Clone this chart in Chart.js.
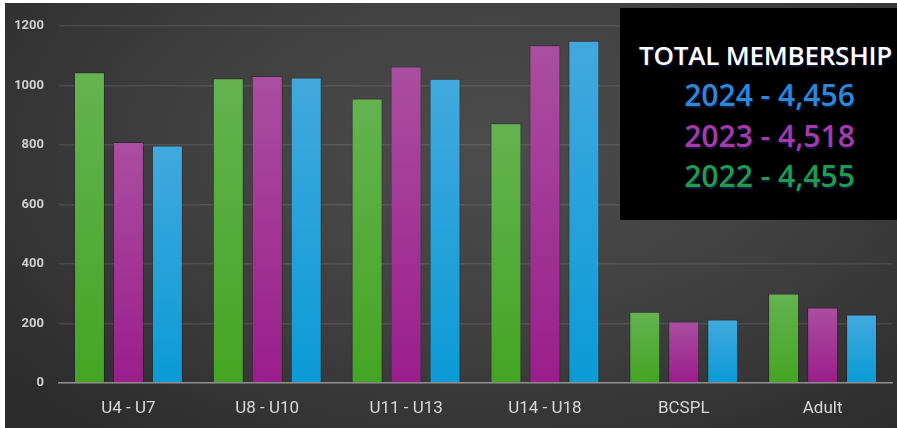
<!DOCTYPE html>
<html>
<head>
<meta charset="utf-8">
<script src="https://cdn.jsdelivr.net/npm/chart.js"></script>
<style>
  html, body { margin: 0; padding: 0; background: #fff; }
  #wrap {
    position: absolute; left: 5px; top: 3px; width: 892px; height: 425px;
    background: radial-gradient(ellipse 70% 85% at 55% 35%, #4c4c4c 0%, #404040 50%, #2c2c2c 100%);
    overflow: hidden;
  }
  #chart { position: absolute; left: 0; top: 0; }
  #totals {
    position: absolute; left: 615px; top: 5px; width: 277px; height: 212px;
    background: #000; font-family: "Open Sans", "Noto Sans", sans-serif;
    text-align: center;
  }
  #totals div { position: absolute; left: 10px; right: -4px; font-weight: 600; text-shadow: 1px 2px 1px rgba(20,30,80,0.8); }
  .title { color: #fff; font-size: 26px; top: 29px; letter-spacing: -0.2px; }
  .y24 { color: #2d88d8; font-size: 30px; top: 66px; left: 18px !important; }
  .y23 { color: #a63aa8; font-size: 30px; top: 107px; left: 18px !important; }
  .y22 { color: #1f9c4c; font-size: 30px; top: 147px; left: 18px !important; }
</style>
</head>
<body>
<div id="wrap">
  <canvas id="chart" width="892" height="425"></canvas>
  <div id="totals">
    <div class="title">TOTAL MEMBERSHIP</div>
    <div class="y24">2024 - 4,456</div>
    <div class="y23">2023 - 4,518</div>
    <div class="y22">2022 - 4,455</div>
  </div>
</div>
<script>
// Data
const categories = ['U4 - U7', 'U8 - U10', 'U11 - U13', 'U14 - U18', 'BCSPL', 'Adult'];
const years = ['2022', '2023', '2024'];
const values2022 = [1044, 1024, 956, 873, 239, 301];
const values2023 = [810, 1031, 1063, 1135, 207, 254];
const values2024 = [798, 1026, 1022, 1150, 213, 230];
const yTicks = [0, 200, 400, 600, 800, 1000, 1200];

// Bar colours: [top, bottom]
const palette = [
  ['#64b350', '#44a523'],
  ['#ab4ea1', '#9a1e8c'],
  ['#42a9de', '#0a9bd6'],
];

function barGradient(ctx, idx) {
  const chart = ctx.chart;
  const y = chart.scales && chart.scales.y;
  if (!y || !chart.chartArea) return palette[idx][1];
  const top = y.getPixelForValue(ctx.raw);
  const base = y.getPixelForValue(0);
  const g = chart.ctx.createLinearGradient(0, top, 0, base);
  g.addColorStop(0, palette[idx][0]);
  g.addColorStop(1, palette[idx][1]);
  return g;
}

const seriesValues = [values2022, values2023, values2024];

new Chart(document.getElementById('chart'), {
  type: 'bar',
  data: {
    labels: categories,
    datasets: years.map((yr, i) => ({
      label: yr,
      data: seriesValues[i],
      backgroundColor: ctx => barGradient(ctx, i),
      borderColor: 'rgba(0,0,0,0.25)',
      borderWidth: 1,
      borderSkipped: 'bottom',
      categoryPercentage: 0.842,
      barPercentage: 0.795,
    }))
  },
  options: {
    responsive: false,
    animation: false,
    layout: { padding: { top: 21, right: 5, left: 0, bottom: 0 } },
    plugins: { legend: { display: false }, tooltip: { enabled: false } },
    scales: {
      x: {
        grid: { display: false, drawTicks: false },
        border: { display: true, color: '#8e8e8e', width: 1.5 },
        ticks: { color: '#d8d8d8', font: { family: 'Roboto', size: 17 }, padding: 16 },
        afterFit: s => { s.height = 45; }
      },
      y: {
        min: 0,
        max: 1200,
        afterBuildTicks: s => { s.ticks = yTicks.map(v => ({ value: v })); },
        grid: { color: 'rgba(255,255,255,0.1)', lineWidth: 1.5, drawTicks: false },
        border: { display: false },
        ticks: {
          color: '#d0d0d0', font: { family: 'Roboto', size: 13, weight: 'bold' }, padding: 15,
          callback: v => String(v)
        },
        afterFit: s => { s.width = 54; }
      }
    }
  }
});
</script>
</body>
</html>
